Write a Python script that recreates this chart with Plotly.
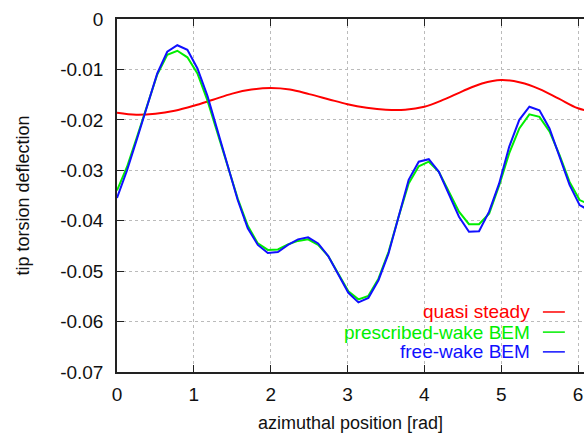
import plotly.graph_objects as go

# azimuthal sample positions (rad) for BEM results
azimuth = [0, 0.131, 0.262, 0.393, 0.524, 0.654, 0.785, 0.916, 1.047, 1.178,
           1.309, 1.440, 1.571, 1.702, 1.833, 1.963, 2.094, 2.225, 2.356, 2.487,
           2.618, 2.749, 2.880, 3.011, 3.142, 3.272, 3.403, 3.534, 3.665, 3.796,
           3.927, 4.058, 4.189, 4.320, 4.451, 4.581, 4.712, 4.843, 4.974, 5.105,
           5.236, 5.367, 5.498, 5.629, 5.760, 5.890, 6.021, 6.152, 6.283]

free_wake = [-0.0355, -0.0300, -0.0237, -0.0171, -0.0108, -0.0065, -0.0052, -0.0061, -0.0098, -0.0153,
             -0.0222, -0.0288, -0.0359, -0.0415, -0.0448, -0.0464, -0.0462, -0.0448, -0.0437, -0.0433,
             -0.0445, -0.0470, -0.0508, -0.0543, -0.0562, -0.0553, -0.0518, -0.0465, -0.0392, -0.0319,
             -0.0283, -0.0278, -0.0303, -0.0349, -0.0392, -0.0422, -0.0421, -0.0382, -0.0326, -0.0253,
             -0.0200, -0.0174, -0.0181, -0.0217, -0.0273, -0.0329, -0.0369, -0.0380, -0.0355]

prescribed_wake = [-0.0340, -0.0293, -0.0233, -0.0170, -0.0110, -0.0071, -0.0063, -0.0076, -0.0108, -0.0162,
                   -0.0228, -0.0290, -0.0356, -0.0410, -0.0445, -0.0458, -0.0457, -0.0447, -0.0440, -0.0437,
                   -0.0448, -0.0470, -0.0505, -0.0540, -0.0556, -0.0549, -0.0515, -0.0462, -0.0392, -0.0326,
                   -0.0292, -0.0283, -0.0303, -0.0343, -0.0382, -0.0407, -0.0407, -0.0386, -0.0330, -0.0266,
                   -0.0217, -0.0189, -0.0194, -0.0223, -0.0270, -0.0323, -0.0359, -0.0368, -0.0340]

# quasi steady (smooth)
qs_azimuth = [0, 0.25, 0.5, 0.75, 1.0, 1.25, 1.5, 1.75, 2.0, 2.25, 2.5, 2.75, 3.0,
              3.25, 3.5, 3.75, 4.0, 4.25, 4.5, 4.75, 5.0, 5.25, 5.5, 5.75, 6.0, 6.25]
quasi_steady = [-0.0186, -0.0190, -0.0188, -0.0182, -0.0172, -0.0160, -0.0148, -0.0140, -0.0137,
                -0.0140, -0.0149, -0.0159, -0.0169, -0.0176, -0.0180, -0.0180, -0.0174, -0.0160,
                -0.0143, -0.0128, -0.0121, -0.0126, -0.0139, -0.0158, -0.0177, -0.0186]

x_ticks = [0, 1, 2, 3, 4, 5, 6]
x_tick_labels = ["0", "1", "2", "3", "4", "5", "6"]
y_ticks = [0, -0.01, -0.02, -0.03, -0.04, -0.05, -0.06, -0.07]
y_tick_labels = ["0", "-0.01", "-0.02", "-0.03", "-0.04", "-0.05", "-0.06", "-0.07"]

series_names = ["quasi steady", "prescribed-wake BEM", "free-wake BEM"]
series_colors = ["#ff0000", "#00ee00", "#1010ff"]

FONT = "Liberation Sans, Arial, sans-serif"

fig = go.Figure()
fig.add_trace(go.Scatter(x=qs_azimuth, y=quasi_steady, mode="lines", name=series_names[0],
                         line=dict(color=series_colors[0], width=2, shape="spline")))
fig.add_trace(go.Scatter(x=azimuth, y=prescribed_wake, mode="lines", name=series_names[1],
                         line=dict(color=series_colors[1], width=2)))
fig.add_trace(go.Scatter(x=azimuth, y=free_wake, mode="lines", name=series_names[2],
                         line=dict(color=series_colors[2], width=2)))

# legend (gnuplot style: text right-aligned, sample line on the right)
leg_y = [0.170, 0.113, 0.057]
shapes = [dict(type="rect", xref="paper", yref="paper", x0=0.393, x1=0.985, y0=0, y1=0.21,
               fillcolor="white", line=dict(width=0), layer="between")]
annotations = []
for name, col, yy in zip(series_names, series_colors, leg_y):
    annotations.append(dict(xref="paper", yref="paper", x=0.888, y=yy, text=name, showarrow=False,
                            xanchor="right", yanchor="middle",
                            font=dict(family=FONT, size=19, color=col)))
    shapes.append(dict(type="line", xref="paper", yref="paper", x0=0.912, x1=0.959, y0=yy, y1=yy,
                       line=dict(color=col, width=1.5)))

fig.update_layout(
    width=584, height=433,
    margin=dict(l=117, r=0, t=19, b=61),
    paper_bgcolor="white", plot_bgcolor="white",
    showlegend=False,
    font=dict(family=FONT, size=19, color="#111"),
    shapes=shapes, annotations=annotations,
)
fig.update_xaxes(range=[0, 6.078], tickvals=x_ticks, ticktext=x_tick_labels,
                 showline=True, linecolor="#222", linewidth=1.5, mirror="ticks",
                 ticks="inside", ticklen=7, tickcolor="#222", ticklabelstandoff=4,
                 showgrid=True, gridcolor="#bbbbbb", griddash="dot", gridwidth=1,
                 zeroline=False, automargin=False,
                 title=dict(text="azimuthal position [rad]", font=dict(size=18), standoff=17))
fig.update_yaxes(range=[-0.07, 0], tickvals=y_ticks, ticktext=y_tick_labels,
                 showline=True, linecolor="#222", linewidth=1.5,
                 ticks="inside", ticklen=7, tickcolor="#222", ticklabelstandoff=8,
                 showgrid=True, gridcolor="#bbbbbb", griddash="dot", gridwidth=1,
                 zeroline=False, automargin=False,
                 title=dict(text="tip torsion deflection", font=dict(size=18), standoff=26))

fig.write_html("out.html", config={"displayModeBar": False},
               post_script="document.body.style.margin='0';")
